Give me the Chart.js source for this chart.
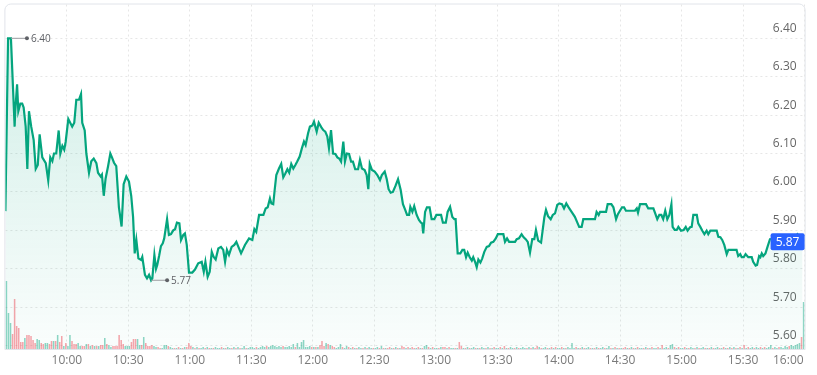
<!DOCTYPE html>
<html>
<head>
<meta charset="utf-8">
<script src="https://cdn.jsdelivr.net/npm/chart.js@4.4.1/dist/chart.umd.min.js"></script>
<style>
  html, body { margin: 0; padding: 0; background: #fff; }
  #wrap { width: 817px; height: 375px; }
</style>
</head>
<body>
<div id="wrap"><canvas id="priceChart" width="817" height="375"></canvas></div>
<script>
// minutes after the 9:30 open
const times = [
    0, 1.3, 2.7, 4.5, 4.8, 5.7, 6.3, 7.3, 8.2, 8.9,
    9.9, 10.7, 11.5, 12.6, 13.8, 14.8, 15.8, 16.7, 18.0, 19.7,
    20.9, 21.9, 22.9, 23.7, 24.8, 26.0, 26.8, 27.8, 28.7, 29.4,
    30.7, 32.6, 33.6, 34.6, 35.9, 36.9, 37.5, 38.7, 39.5, 40.8,
    41.9, 43.1, 44.4, 45.2, 46.5, 47.1, 48.0, 48.9, 50.1, 51.2,
    52.0, 53.0, 54.1, 55.4, 56.7, 57.7, 59.0, 60.3, 61.4, 62.3,
    63.1, 63.9, 64.9, 66.2, 66.8, 68.1, 69.1, 70.1, 71.1, 71.7,
    72.7, 73.5, 74.1, 75.0, 75.9, 76.8, 77.5, 78.9, 79.8, 80.8,
    81.9, 82.8, 83.7, 84.9, 85.7, 86.8, 87.6, 88.5, 89.6, 91.2,
    92.5, 94.1, 95.8, 96.8, 97.6, 98.7, 99.7, 100.7, 101.6, 102.6,
    103.9, 105.2, 106.3, 107.2, 108.1, 109.1, 110.4, 111.7, 112.7, 114.0,
    115.0, 116.9, 118.9, 120.5, 121.5, 122.4, 123.8, 125.9, 127.0, 128.0,
    129.1, 129.8, 130.7, 131.4, 132.2, 133.5, 134.6, 135.6, 136.6, 137.6,
    138.5, 139.5, 140.5, 141.5, 142.4, 143.6, 144.7, 145.7, 146.5, 147.7,
    148.6, 149.8, 150.6, 151.9, 152.9, 154.2, 155.1, 156.1, 157.1, 157.9,
    158.9, 159.9, 161.0, 162.0, 162.9, 163.8, 164.9, 165.7, 166.6, 167.7,
    168.7, 169.6, 170.7, 172.1, 173.0, 174.0, 175.3, 176.3, 177.1, 177.8,
    178.9, 180.2, 181.5, 182.8, 183.7, 185.1, 186.1, 187.0, 188.0, 189.1,
    190.3, 191.6, 192.9, 194.0, 195.1, 196.0, 197.0, 197.6, 198.6, 199.5,
    200.7, 201.8, 202.8, 203.4, 203.9, 204.8, 205.7, 207.0, 208.0, 209.3,
    210.3, 212.6, 213.5, 214.9, 215.8, 217.0, 218.1, 219.1, 219.7, 220.7,
    222.0, 223.0, 223.9, 224.8, 225.6, 226.6, 227.6, 228.3, 229.2, 230.0,
    230.8, 231.8, 232.7, 233.7, 234.9, 236.0, 237.0, 238.1, 239.3, 240.3,
    243.0, 243.8, 244.8, 245.8, 248.7, 249.5, 250.6, 251.9, 252.9, 253.9,
    254.9, 256.0, 257.1, 258.1, 258.9, 260.0, 261.4, 262.2, 263.0, 263.8,
    264.8, 266.1, 267.1, 268.2, 269.3, 270.3, 271.6, 272.6, 273.7, 274.7,
    276.3, 277.9, 279.1, 280.0, 281.2, 282.0, 287.7, 288.5, 289.5, 290.2,
    293.1, 293.9, 295.7, 296.7, 298.0, 298.9, 299.9, 300.9, 301.9, 302.8,
    307.2, 308.1, 308.7, 309.7, 312.6, 313.7, 316.2, 317.1, 318.1, 319.1,
    320.1, 321.0, 322.0, 323.0, 324.0, 325.0, 325.6, 326.6, 327.6, 328.4,
    329.7, 331.0, 332.0, 332.9, 334.1, 334.9, 335.7, 337.4, 338.1, 339.1,
    340.1, 341.1, 342.2, 343.0, 344.0, 347.1, 347.9, 348.9, 349.8, 350.8,
    352.0, 352.8, 356.8, 357.6, 358.6, 359.3, 360.3, 361.2, 362.5, 364.2,
    364.9, 366.1, 366.8, 367.8, 368.4, 369.1, 369.8, 370.9, 371.9, 373.1,
    378, 383, 386.5, 389
];

const prices = [
    5.95, 6.40, 6.40, 6.17, 6.21, 6.28, 6.21, 6.23, 6.23, 6.22,
    6.17, 6.06, 6.21, 6.17, 6.135, 6.06, 6.07, 6.15, 6.09, 6.075,
    6.03, 6.09, 6.08, 6.10, 6.10, 6.16, 6.10, 6.12, 6.11, 6.13,
    6.19, 6.17, 6.18, 6.24, 6.24, 6.255, 6.18, 6.16, 6.10, 6.05,
    6.08, 6.087, 6.075, 6.05, 6.04, 6.045, 5.99, 6.035, 6.067, 6.10,
    6.09, 6.076, 6.067, 5.96, 5.91, 6.02, 6.04, 6.027, 5.99, 5.935,
    5.84, 5.875, 5.827, 5.823, 5.831, 5.784, 5.775, 5.784, 5.77, 5.775,
    5.836, 5.80, 5.81, 5.833, 5.859, 5.866, 5.879, 5.929, 5.888, 5.89,
    5.90, 5.903, 5.92, 5.918, 5.875, 5.888, 5.892, 5.862, 5.79, 5.79,
    5.798, 5.814, 5.818, 5.792, 5.818, 5.779, 5.792, 5.844, 5.831, 5.824,
    5.853, 5.857, 5.849, 5.818, 5.849, 5.836, 5.857, 5.862, 5.870, 5.853,
    5.84, 5.862, 5.879, 5.875, 5.903, 5.896, 5.94, 5.94, 5.957, 5.96,
    5.983, 5.97, 5.968, 6.005, 6.044, 6.061, 6.073, 6.038, 6.048, 6.059,
    6.05, 6.073, 6.061, 6.07, 6.079, 6.092, 6.114, 6.131, 6.122, 6.153,
    6.17, 6.173, 6.183, 6.157, 6.18, 6.168, 6.161, 6.157, 6.144, 6.114,
    6.161, 6.10, 6.099, 6.09, 6.087, 6.079, 6.131, 6.079, 6.10, 6.099,
    6.079, 6.079, 6.059, 6.059, 6.083, 6.061, 6.057, 6.044, 6.007, 6.073,
    6.057, 6.053, 6.044, 6.031, 6.044, 6.053, 6.033, 6.007, 5.998, 6.0,
    6.015, 6.033, 6.005, 5.968, 5.953, 5.94, 5.94, 5.961, 5.948, 5.963,
    5.94, 5.927, 5.92, 5.918, 5.892, 5.948, 5.96, 5.96, 5.929, 5.929,
    5.94, 5.94, 5.92, 5.92, 5.948, 5.961, 5.935, 5.929, 5.929, 5.84,
    5.84, 5.849, 5.849, 5.83, 5.842, 5.83, 5.821, 5.83, 5.818, 5.804,
    5.824, 5.816, 5.827, 5.844, 5.857, 5.859, 5.868, 5.87, 5.879, 5.89,
    5.89, 5.87, 5.879, 5.87, 5.87, 5.877, 5.879, 5.89, 5.882, 5.877,
    5.87, 5.842, 5.877, 5.877, 5.901, 5.873, 5.868, 5.901, 5.934, 5.953,
    5.937, 5.929, 5.94, 5.944, 5.966, 5.97, 5.968, 5.957, 5.97, 5.961,
    5.948, 5.935, 5.92, 5.909, 5.909, 5.929, 5.929, 5.948, 5.94, 5.948,
    5.948, 5.968, 5.968, 5.96, 5.929, 5.942, 5.951, 5.96, 5.96, 5.951,
    5.951, 5.957, 5.946, 5.968, 5.968, 5.957, 5.957, 5.944, 5.929, 5.94,
    5.94, 5.929, 5.951, 5.929, 5.94, 5.968, 5.909, 5.901, 5.901, 5.909,
    5.899, 5.901, 5.909, 5.899, 5.908, 5.909, 5.94, 5.94, 5.918, 5.909,
    5.899, 5.89, 5.899, 5.89, 5.899, 5.899, 5.883, 5.882, 5.875, 5.862,
    5.838, 5.849, 5.849, 5.833, 5.838, 5.83, 5.83, 5.838, 5.83, 5.83,
    5.818, 5.808, 5.81, 5.833, 5.83, 5.84, 5.833, 5.84, 5.857, 5.877,
    5.88, 5.87, 5.89, 5.87
];

// volume per minute (thousand shares), one row per half hour
const volume = [
    68, 36, 26, 15, 50, 23, 21, 7, 7, 11, 14, 14, 13, 9, 6, 10, 9, 6, 5, 6, 6, 5, 8, 8, 8, 14, 7, 13, 3, 6,
    3, 14, 8, 5, 5, 6, 3, 3, 3, 5, 5, 3, 4, 3, 3, 3, 4, 4, 11, 5, 4, 2, 3, 3, 3, 14, 9, 5, 3, 3,
    3, 7, 10, 10, 10, 4, 4, 12, 6, 3, 3, 4, 3, 2, 2, 1, 1, 4, 4, 3, 2, 1, 1, 1, 2, 1, 1, 2, 2, 6,
    3, 2, 1, 2, 1, 1, 2, 1, 2, 1, 1, 1, 2, 1, 1, 2, 1, 1, 2, 1, 1, 2, 1, 2, 1, 1, 3, 1, 1, 2,
    2, 1, 2, 1, 2, 3, 2, 3, 2, 3, 4, 3, 2, 3, 2, 3, 2, 2, 3, 2, 5, 2, 6, 2, 7, 9, 2, 2, 3, 2,
    2, 2, 2, 4, 8, 3, 6, 5, 4, 3, 2, 1, 2, 5, 2, 1, 3, 2, 1, 2, 1, 1, 2, 1, 1, 2, 1, 2, 1, 1,
    1, 2, 1, 3, 1, 1, 1, 2, 1, 1, 2, 1, 1, 3, 2, 1, 2, 1, 2, 1, 1, 2, 1, 1, 3, 4, 2, 1, 2, 1,
    1, 1, 2, 2, 2, 1, 2, 1, 1, 1, 1, 7, 3, 1, 1, 2, 1, 1, 2, 1, 1, 1, 2, 1, 1, 2, 1, 1, 2, 1,
    1, 2, 1, 3, 1, 1, 2, 1, 1, 2, 1, 1, 2, 1, 1, 2, 1, 2, 1, 3, 2, 1, 1, 2, 1, 1, 2, 1, 2, 1,
    1, 2, 1, 1, 2, 1, 6, 1, 2, 1, 1, 2, 1, 1, 2, 1, 1, 1, 2, 1, 1, 2, 1, 1, 3, 1, 1, 2, 1, 1,
    1, 1, 2, 1, 1, 2, 1, 1, 2, 1, 1, 1, 2, 1, 1, 2, 1, 1, 2, 1, 4, 1, 2, 1, 4, 5, 2, 1, 2, 1,
    1, 2, 1, 1, 2, 1, 1, 2, 1, 1, 2, 1, 1, 1, 2, 1, 1, 2, 1, 1, 2, 1, 1, 2, 1, 2, 1, 1, 2, 1,
    4, 1, 2, 1, 2, 1, 2, 1, 2, 1, 2, 1, 2, 4, 1, 2, 1, 2, 2, 1, 3, 2, 3, 4, 3, 4, 5, 6, 12, 47
];

// g = up minute, r = down minute
const volumeDir =
    'gggrrrrrrgrrrrrggrrggrrgrgrrgr' +
    'ggrrrggrrgrgrgrgrrgrggrrrrrrgg' +
    'grrrggrgrrrrggrrgggrggrgrgrgrr' +
    'rgrgrggrgrgrgggrgrggrgrgrggrgg' +
    'ggrggggrgggggggrgggggrgggggggr' +
    'grgrrrgrgrrgggrggrgrgrggrgrggr' +
    'ggrgrgrrgrgrgrrgrgrrgrgrggrgrg' +
    'grgrrgrggrgrrgrgrggrgrggrgrgrg' +
    'grgrgrggrgrgggrgrgrrgrggrgrgrg' +
    'grgrggggrgrgrggrgrgrggrggrgrgr' +
    'grrgrgrgrggrgrgrggrgrggrggrgrg' +
    'grgrggrgrggrgrgrggrgrgrgrgrgrg' +
    'rgrggrggrgrgggrggrggggrgggggrg';

const timeTicks = ['10:00', '10:30', '11:00', '11:30', '12:00', '12:30', '13:00',
    '13:30', '14:00', '14:30', '15:00', '15:30', '16:00'];
const priceTicks = [5.60, 5.70, 5.80, 5.90, 6.00, 6.10, 6.20, 6.30, 6.40];

const LINE = '#04a57e';
const FONT = '"Open Sans", "Noto Sans", sans-serif';

function toMinutes(label) {
    const [h, m] = label.split(':').map(Number);
    return (h - 9) * 60 + m - 30;
}

const framePlugin = {
    id: 'frame',
    beforeDraw(chart) {
        const { ctx, chartArea: a } = chart;
        ctx.save();
        ctx.strokeStyle = '#e1e4ea';
        ctx.lineWidth = 1;
        ctx.beginPath();
        ctx.roundRect(a.left - 0.5, a.top - 0.5, a.right - a.left + 1, a.bottom - a.top + 1, [6, 6, 0, 0]);
        ctx.stroke();
        ctx.restore();
    },
    afterDraw(chart) {
        const { ctx, chartArea: a } = chart;
        const xs = chart.scales.x;
        const ys = chart.scales.y;
        ctx.save();

        // time labels under the frame, last one kept inside
        ctx.font = '12px ' + FONT;
        ctx.fillStyle = '#7a7a7a';
        ctx.textBaseline = 'middle';
        ctx.textAlign = 'left';
        timeTicks.forEach(t => {
            const px = xs.getPixelForValue(toMinutes(t));
            const w = ctx.measureText(t).width;
            let left = px - w / 2;
            if (left + w > a.right - 1) left = a.right - 1 - w;
            ctx.fillText(t, left, a.bottom + 12);
        });

        // high / low markers
        let hi = 0, lo = 0;
        prices.forEach((p, i) => {
            if (p >= prices[hi]) hi = i;
            if (p < prices[lo]) lo = i;
        });
        ctx.font = '10px ' + FONT;
        [hi, lo].forEach(i => {
            const px = xs.getPixelForValue(times[i]);
            const py = ys.getPixelForValue(prices[i]);
            ctx.strokeStyle = '#9a9ca0';
            ctx.lineWidth = 1;
            ctx.beginPath();
            ctx.moveTo(px, py);
            ctx.lineTo(px + 16, py);
            ctx.stroke();
            ctx.fillStyle = '#5f6166';
            ctx.beginPath();
            ctx.arc(px + 16, py, 2, 0, Math.PI * 2);
            ctx.fill();
            ctx.fillText(prices[i].toFixed(2), px + 20, py + 0.5);
        });

        // last price tag
        const last = prices[prices.length - 1];
        const ty = ys.getPixelForValue(last);
        ctx.fillStyle = '#2962ff';
        ctx.beginPath();
        ctx.roundRect(a.right - 34, ty - 8.5, 34, 17, 2);
        ctx.fill();
        ctx.fillStyle = '#fff';
        ctx.font = '12px ' + FONT;
        ctx.textAlign = 'center';
        ctx.fillText(last.toFixed(2), a.right - 17, ty + 0.5);
        ctx.restore();
    }
};

const ctx = document.getElementById('priceChart').getContext('2d');
const priceChart = new Chart(ctx, {
    data: {
        datasets: [
            {
                type: 'line',
                label: 'Price',
                data: times.map((t, i) => ({ x: t, y: prices[i] })),
                borderColor: LINE,
                borderWidth: 2.2,
                pointRadius: 0,
                tension: 0,
                fill: 'start',
                backgroundColor: function (c) {
                    const area = c.chart.chartArea;
                    if (!area) return 'rgba(4,165,126,0.1)';
                    const g = c.chart.ctx.createLinearGradient(0, area.top, 0, area.bottom);
                    g.addColorStop(0, 'rgba(4,165,126,0.20)');
                    g.addColorStop(1, 'rgba(4,165,126,0.02)');
                    return g;
                },
                yAxisID: 'y',
                order: 0
            },
            {
                type: 'bar',
                label: 'Volume',
                data: volume.map((v, i) => ({ x: i + 0.5, y: v })),
                backgroundColor: volume.map((v, i) => volumeDir[i] === 'g' ? 'rgba(4,165,126,0.45)' : 'rgba(242,54,69,0.45)'),
                barPercentage: 1,
                categoryPercentage: 0.75,
                yAxisID: 'yv',
                order: 1
            }
        ]
    },
    options: {
        responsive: false,
        animation: false,
        devicePixelRatio: 1,
        layout: { autoPadding: false, padding: { top: 4.5, left: 5.4, right: 12.4, bottom: 0 } },
        plugins: { legend: { display: false }, tooltip: { enabled: false } },
        scales: {
            x: {
                type: 'linear',
                offset: false,
                min: 0,
                max: 390,
                afterBuildTicks: s => { s.ticks = timeTicks.map(t => ({ value: toMinutes(t) })); },
                afterFit: s => { s.height = 26; },
                ticks: { display: false },
                grid: { color: '#e6e6e6', drawTicks: false, offset: false },
                border: { display: false, dash: [2, 3] }
            },
            y: {
                position: 'right',
                min: 5.591,
                max: 6.488,
                afterBuildTicks: s => { s.ticks = priceTicks.map(v => ({ value: v })); },
                afterFit: s => { s.width = 0; },
                ticks: {
                    mirror: true,
                    padding: -8,
                    labelOffset: -10,
                    color: '#666',
                    font: { family: FONT, size: 12 },
                    callback: v => Number(v).toFixed(2)
                },
                grid: { color: '#e6e6e6', drawTicks: false },
                border: { display: false, dash: [2, 3] }
            },
            yv: {
                display: false,
                min: 0,
                max: 344
            }
        }
    },
    plugins: [framePlugin]
});
</script>
</body>
</html>
